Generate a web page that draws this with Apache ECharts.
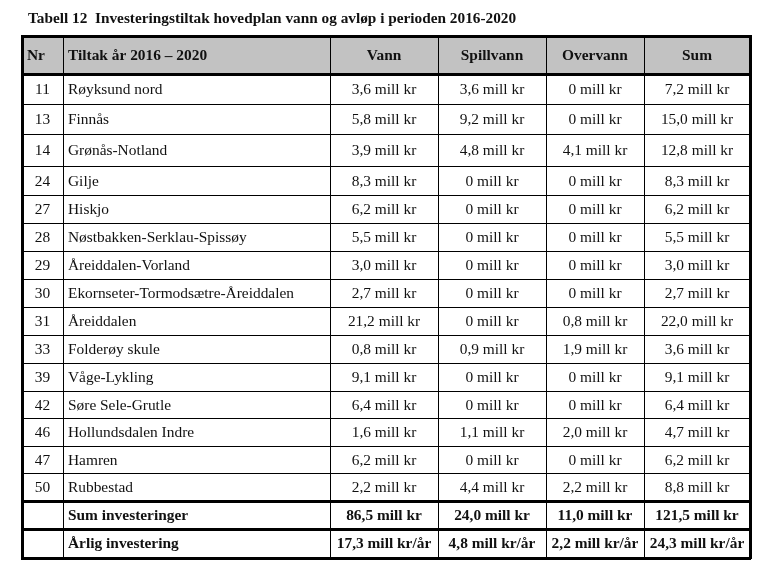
<!DOCTYPE html>
<html>
<head>
<meta charset="utf-8">
<script src="https://cdn.jsdelivr.net/npm/echarts@6/dist/echarts.min.js"></script>
<style>html,body{margin:0;padding:0;background:#fff;}#main{width:761px;height:571px;}</style>
</head>
<body>
<div id="main"></div>
<script>
// ---- data ----
const titleText = 'Tabell 12  Investeringstiltak hovedplan vann og avløp i perioden 2016-2020';
const columns = ['Nr', 'Tiltak år 2016 – 2020', 'Vann', 'Spillvann', 'Overvann', 'Sum'];
const nr = ['11','13','14','24','27','28','29','30','31','33','39','42','46','47','50'];
const tiltak = ['Røyksund nord','Finnås','Grønås-Notland','Gilje','Hiskjo','Nøstbakken-Serklau-Spissøy','Åreiddalen-Vorland','Ekornseter-Tormodsætre-Åreiddalen','Åreiddalen','Folderøy skule','Våge-Lykling','Søre Sele-Grutle','Hollundsdalen Indre','Hamren','Rubbestad'];
const vann = [3.6,5.8,3.9,8.3,6.2,5.5,3.0,2.7,21.2,0.8,9.1,6.4,1.6,6.2,2.2];
const spillvann = [3.6,9.2,4.8,0,0,0,0,0,0,0.9,0,0,1.1,0,4.4];
const overvann = [0,0,4.1,0,0,0,0,0,0.8,1.9,0,0,2.0,0,2.2];
const sum = [7.2,15.0,12.8,8.3,6.2,5.5,3.0,2.7,22.0,3.6,9.1,6.4,4.7,6.2,8.8];
const sumLabel = 'Sum investeringer';
const sumRow = [86.5,24.0,11.0,121.5];
const annualLabel = 'Årlig investering';
const annualRow = [17.3,4.8,2.2,24.3];
const unit = 'mill kr';
const annualUnit = 'mill kr/år';

// ---- layout (table geometry in grid units = px) ----
const colWidths = [41, 267, 108, 108, 98, 106];
const rowHeights = [38,30,30,32,29,28,28,28,28,28,28,28,27,28,27,28,28,29,29];
// heavy rules: index of horizontal edge
const heavyEdges = [0, 1, 16, 17, 18];

function cum(a){const r=[0];a.forEach(v=>r.push(r[r.length-1]+v));return r;}
const colEdges = cum(colWidths);
const rowEdges = cum(rowHeights.slice(0,18));
const W = colEdges[colEdges.length-1];
const H = rowEdges[rowEdges.length-1];

function fmt(v, u){ return (v === 0 ? '0' : v.toFixed(1).replace('.', ',')) + ' ' + u; }

// build cells: [col, row, text, kind]
const cells = [];
columns.forEach((c,i)=>cells.push([i,0,c,'head']));
nr.forEach((n,r)=>{
  const row = r+1;
  cells.push([0,row,n,'body']);
  cells.push([1,row,tiltak[r],'bodyLeft']);
  cells.push([2,row,fmt(vann[r],unit),'body']);
  cells.push([3,row,fmt(spillvann[r],unit),'body']);
  cells.push([4,row,fmt(overvann[r],unit),'body']);
  cells.push([5,row,fmt(sum[r],unit),'body']);
});
const sr = nr.length+1;
cells.push([0,sr,'','bold']);
cells.push([1,sr,sumLabel,'boldLeft']);
sumRow.forEach((v,i)=>cells.push([2+i,sr,fmt(v,unit),'bold']));
cells.push([0,sr+1,'','bold']);
cells.push([1,sr+1,annualLabel,'boldLeft']);
annualRow.forEach((v,i)=>cells.push([2+i,sr+1,fmt(v,annualUnit),'bold']));

const FONT = '"Liberation Serif", "Times New Roman", serif';

function renderCell(params, api){
  const c = api.value(0), r = api.value(1);
  const d = cells[params.dataIndex];
  const kind = d[3];
  const p0 = api.coord([colEdges[c], rowEdges[r]]);
  const p1 = api.coord([colEdges[c+1], rowEdges[r+1]]);
  const isHead = kind === 'head';
  const left = kind === 'bodyLeft' || kind === 'boldLeft' || (isHead && c <= 1);
  const bold = isHead || kind === 'bold' || kind === 'boldLeft';
  return {
    type: 'group',
    children: [
      { type: 'rect', shape: {x:p0[0], y:p0[1], width:p1[0]-p0[0], height:p1[1]-p0[1]},
        style: { fill: isHead ? '#c2c2c2' : '#ffffff' } },
      { type: 'text', x: left ? p0[0]+5 : (p0[0]+p1[0])/2, y: (p0[1]+p1[1])/2 + 1,
        style: { text: d[2], fill:'#111', font: (bold?'bold ':'') + '15.4px ' + FONT,
                 align: left ? 'left' : 'center', verticalAlign: 'middle' } }
    ]
  };
}

// rules: horizontal edges and vertical edges
const rules = [];
rowEdges.forEach((y,i)=>rules.push(['h', i]));
colEdges.forEach((x,i)=>rules.push(['v', i]));

function renderRule(params, api){
  const d = rules[params.dataIndex];
  let a, b, lw;
  if (d[0] === 'h') {
    const i = d[1];
    a = api.coord([0, rowEdges[i]]); b = api.coord([W, rowEdges[i]]);
    lw = heavyEdges.indexOf(i) >= 0 ? 3 : 1;
    const y = lw % 2 ? Math.round(a[1]) + 0.5 : Math.round(a[1]);
    return { type:'line', shape:{x1:a[0]-1, y1:y, x2:b[0]+1, y2:y}, style:{stroke:'#000', lineWidth:lw} };
  } else {
    const i = d[1];
    a = api.coord([colEdges[i], 0]); b = api.coord([colEdges[i], H]);
    lw = (i === 0 || i === colEdges.length-1) ? 3 : 1;
    const x = lw % 2 ? Math.round(a[0]) + 0.5 : Math.round(a[0]);
    return { type:'line', shape:{x1:x, y1:a[1]-1, x2:x, y2:b[1]+1}, style:{stroke:'#000', lineWidth:lw} };
  }
}

const chart = echarts.init(document.getElementById('main'), null, {renderer:'canvas'});
chart.setOption({
  animation: false,
  backgroundColor: '#fff',
  title: { text: titleText, left: 23, top: 7,
           textStyle: { fontFamily: FONT, fontWeight: 'bold', fontSize: 15.3, color: '#111' } },
  grid: { left: 22, top: 36, width: W, height: H },
  xAxis: { type: 'value', min: 0, max: W, show: false },
  yAxis: { type: 'value', min: 0, max: H, inverse: true, show: false },
  series: [
    { type: 'custom', name: 'cells', data: cells.map(d=>[d[0], d[1]]), renderItem: renderCell, clip: false, silent: true },
    { type: 'custom', name: 'rules', data: rules.map((d,i)=>[i, 0]), renderItem: renderRule, clip: false, silent: true, z: 3 }
  ]
});
</script>
</body>
</html>
